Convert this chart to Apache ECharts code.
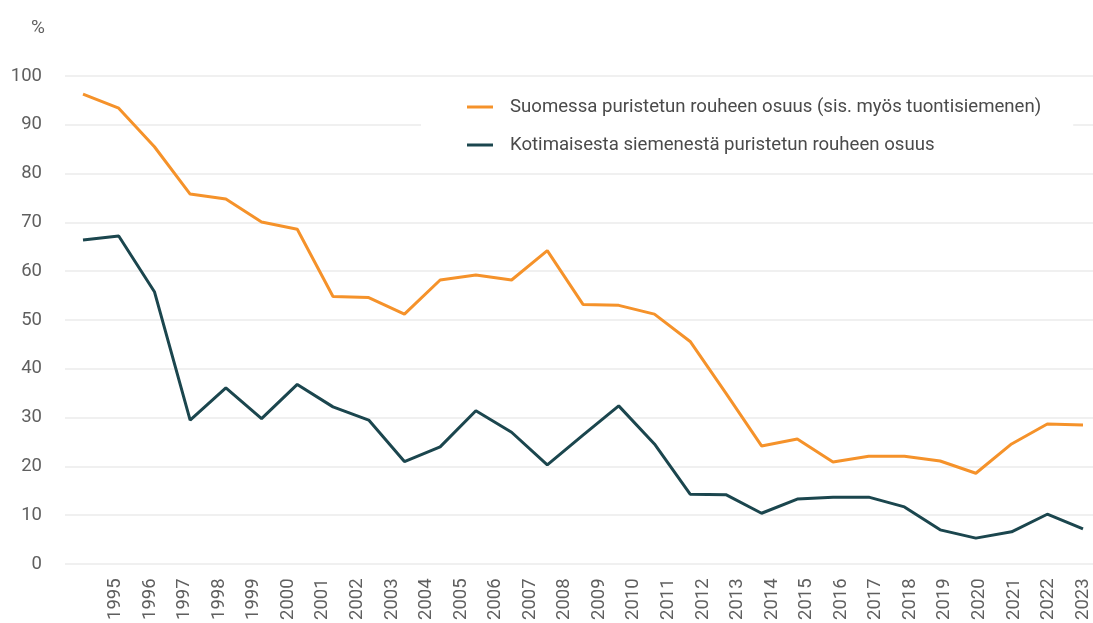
<!DOCTYPE html>
<html>
<head>
<meta charset="utf-8">
<script src="https://cdn.jsdelivr.net/npm/echarts@6/dist/echarts.min.js"></script>
<style>
  html, body { margin: 0; padding: 0; background: #fff; }
  #chart { width: 1093px; height: 623px; }
</style>
</head>
<body>
<div id="chart"></div>
<script>
// vuodet ja osuudet (%)
var years = [1995, 1996, 1997, 1998, 1999, 2000, 2001, 2002, 2003, 2004,
    2005, 2006, 2007, 2008, 2009, 2010, 2011, 2012, 2013, 2014,
    2015, 2016, 2017, 2018, 2019, 2020, 2021, 2022, 2023];
var suomessaPuristettu = [96.3, 93.4, 85.5, 75.8, 74.8, 70.1, 68.6, 54.8, 54.6, 51.2,
    58.2, 59.2, 58.2, 64.2, 53.2, 53.0, 51.2, 45.6, 35.0, 24.2,
    25.6, 20.9, 22.1, 22.1, 21.1, 18.6, 24.6, 28.7, 28.5];
var kotimainenSiemen = [66.4, 67.2, 55.8, 29.5, 36.1, 29.8, 36.8, 32.2, 29.5, 21.0,
    24.0, 31.4, 27.0, 20.3, 26.4, 32.4, 24.6, 14.3, 14.2, 10.4,
    13.3, 13.7, 13.7, 11.7, 7.0, 5.3, 6.6, 10.2, 7.2];
var seriesNames = ['Suomessa puristetun rouheen osuus (sis. myös tuontisiemenen)',
    'Kotimaisesta siemenestä puristetun rouheen osuus'];

var chart = echarts.init(document.getElementById('chart'));

function pairs(vals) {
    return vals.map(function (v, i) { return [years[i], v]; });
}

var font = 'Roboto';
var option = {
    animation: false,
    textStyle: { fontFamily: font },
    title: {
        text: '%',
        left: 26,
        top: 14,
        textStyle: { fontFamily: font, fontSize: 19, fontWeight: 'normal', color: '#5f5f5f' }
    },
    legend: {
        orient: 'vertical',
        left: 421,
        top: 88,
        padding: [8, 32, 8, 46],
        backgroundColor: '#ffffff',
        itemWidth: 26,
        itemHeight: 3,
        itemGap: 16,
        icon: 'rect',
        textStyle: {
            fontFamily: font,
            fontSize: 18.6,
            lineHeight: 22,
            color: '#4a4a4a',
            padding: [0, 0, 0, 12]
        },
        data: seriesNames
    },
    grid: [
        { left: 65, right: 0, top: 76, bottom: 59 },
        { left: 115.5, right: 10, top: 76, bottom: 59 }
    ],
    xAxis: [
        {
            // data axis
            type: 'value',
            gridIndex: 0,
            min: 1994.496,
            max: 2023.28,
            show: false
        },
        {
            // year labels
            type: 'category',
            gridIndex: 1,
            boundaryGap: false,
            data: years,
            axisLine: { show: false },
            axisTick: { show: false },
            splitLine: { show: false },
            axisLabel: {
                rotate: 90,
                margin: 16,
                fontFamily: font,
                fontSize: 18.5,
                color: '#5f5f5f',
                interval: 0
            }
        }
    ],
    yAxis: [
        {
            type: 'value',
            gridIndex: 0,
            min: 0,
            max: 100,
            interval: 10,
            axisLine: { show: false },
            axisTick: { show: false },
            axisLabel: { margin: 23, fontFamily: font, fontSize: 18.5, color: '#5f5f5f' },
            splitLine: { lineStyle: { color: '#ebebeb', width: 1.5 } }
        },
        {
            type: 'value',
            gridIndex: 1,
            show: false
        }
    ],
    series: [
        {
            name: seriesNames[0],
            type: 'line',
            xAxisIndex: 0,
            yAxisIndex: 0,
            symbol: 'none',
            color: '#f5922a',
            lineStyle: { width: 3, color: '#f5922a' },
            data: pairs(suomessaPuristettu)
        },
        {
            name: seriesNames[1],
            type: 'line',
            xAxisIndex: 0,
            yAxisIndex: 0,
            symbol: 'none',
            color: '#1b464e',
            lineStyle: { width: 3, color: '#1b464e' },
            data: pairs(kotimainenSiemen)
        }
    ]
};

chart.setOption(option);

window.addEventListener('resize', function () {
    chart.resize();
});
</script>
</body>
</html>
